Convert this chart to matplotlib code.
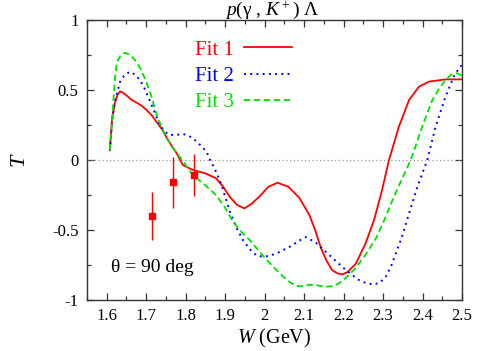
import numpy as np
import matplotlib.pyplot as plt
from matplotlib.ticker import MultipleLocator, FormatStrFormatter

plt.rcParams['font.family'] = ['Liberation Serif', 'DejaVu Serif']
plt.rcParams['mathtext.fontset'] = 'custom'
plt.rcParams['mathtext.rm'] = 'Liberation Serif'
plt.rcParams['mathtext.it'] = 'Liberation Serif:italic'
plt.rcParams['axes.unicode_minus'] = False

# Fit 1 (solid red)
w_fit1 = [1.608, 1.614, 1.621, 1.628, 1.634, 1.642, 1.651, 1.663, 1.676, 1.69, 1.70,
          1.714, 1.727, 1.74, 1.752, 1.765, 1.777, 1.793, 1.818, 1.85, 1.877, 1.895,
          1.911, 1.93, 1.949, 1.968, 1.987, 2.01, 2.033, 2.06, 2.088, 2.113, 2.128,
          2.143, 2.157, 2.171, 2.185, 2.197, 2.21, 2.231, 2.255, 2.277, 2.297, 2.315,
          2.34, 2.366, 2.391, 2.416, 2.458, 2.5]
t_fit1 = [0.07, 0.30, 0.41, 0.47, 0.49, 0.48, 0.46, 0.43, 0.41, 0.385, 0.36,
          0.32, 0.27, 0.22, 0.16, 0.10, 0.05, -0.036, -0.07, -0.095, -0.13, -0.19,
          -0.26, -0.32, -0.345, -0.31, -0.26, -0.19, -0.162, -0.19, -0.27, -0.39, -0.50,
          -0.63, -0.72, -0.786, -0.81, -0.816, -0.80, -0.74, -0.60, -0.43, -0.22, 0.0,
          0.238, 0.43, 0.524, 0.56, 0.576, 0.576]

# Fit 2 (dotted blue)
w_fit2 = [1.608, 1.614, 1.621, 1.634, 1.646, 1.659, 1.672, 1.685, 1.698, 1.71, 1.723,
          1.735, 1.748, 1.76, 1.777, 1.794, 1.807, 1.819, 1.836, 1.853, 1.862, 1.875,
          1.89, 1.911, 1.928, 1.945, 1.962, 1.979, 1.995, 2.012, 2.035, 2.063, 2.088,
          2.105, 2.13, 2.155, 2.18, 2.206, 2.239, 2.258, 2.277, 2.292, 2.307, 2.32,
          2.332, 2.35, 2.366, 2.387, 2.412, 2.433, 2.458, 2.479, 2.492, 2.5]
t_fit2 = [0.07, 0.28, 0.42, 0.56, 0.61, 0.63, 0.61, 0.57, 0.50, 0.42, 0.33,
          0.25, 0.20, 0.18, 0.18, 0.186, 0.175, 0.155, 0.11, 0.06, 0.0, -0.07,
          -0.17, -0.36, -0.48, -0.57, -0.635, -0.68, -0.69, -0.685, -0.66, -0.62, -0.575,
          -0.55, -0.59, -0.655, -0.72, -0.786, -0.857, -0.88, -0.888, -0.875, -0.833, -0.76,
          -0.67, -0.53, -0.38, -0.19, 0.0, 0.238, 0.452, 0.595, 0.655, 0.68]

# Fit 3 (dashed green)
w_fit3 = [1.608, 1.613, 1.617, 1.621, 1.626, 1.636, 1.647, 1.66, 1.676, 1.688, 1.70,
          1.714, 1.727, 1.74, 1.752, 1.772, 1.794, 1.818, 1.85, 1.877, 1.9, 1.92,
          1.94, 1.962, 1.983, 2.004, 2.025, 2.046, 2.063, 2.08, 2.097, 2.113, 2.135,
          2.155, 2.172, 2.189, 2.21, 2.231, 2.257, 2.282, 2.303, 2.324, 2.347, 2.37,
          2.385, 2.399, 2.425, 2.442, 2.458, 2.471, 2.488, 2.5]
t_fit3 = [0.07, 0.25, 0.42, 0.58, 0.70, 0.75, 0.766, 0.75, 0.70, 0.64, 0.56,
          0.45, 0.32, 0.23, 0.155, 0.07, -0.01, -0.107, -0.18, -0.25, -0.34, -0.44,
          -0.51, -0.57, -0.64, -0.71, -0.77, -0.83, -0.87, -0.90, -0.90, -0.89, -0.895,
          -0.905, -0.90, -0.88, -0.83, -0.77, -0.67, -0.56, -0.43, -0.286, -0.14, 0.0,
          0.12, 0.238, 0.43, 0.51, 0.571, 0.607, 0.62, 0.60]

# measured points
w_data = [1.715, 1.769, 1.82]
t_data = [-0.40, -0.16, -0.107]
t_err = [0.17, 0.18, 0.15]

fig = plt.figure(figsize=(4.91, 3.51), dpi=100)
ax = fig.add_axes([0.177, 0.145, 0.764, 0.798])

ax.axhline(0, color='#999999', lw=0.9, ls=(0, (1, 2)))
ax.plot(w_fit1, t_fit1, color='#ff0000', lw=1.3, label='Fit 1')
ax.plot(w_fit2, t_fit2, color='#0000ff', lw=1.4, ls=(0, (1, 2.2)), label='Fit 2')
ax.plot(w_fit3, t_fit3, color='#00e000', lw=1.3, ls=(0, (3.5, 2)), label='Fit 3')
ax.errorbar(w_data, t_data, yerr=t_err, fmt='s', color='#ff0000', ms=4.5,
            elinewidth=1.0, capsize=0)

ax.set_xlim(1.55, 2.5)
ax.set_ylim(-1, 1)
ax.xaxis.set_major_locator(MultipleLocator(0.1))
ax.xaxis.set_minor_locator(MultipleLocator(0.05))
ax.yaxis.set_major_locator(MultipleLocator(0.5))
ax.yaxis.set_minor_locator(MultipleLocator(0.25))
ax.xaxis.set_major_formatter(FormatStrFormatter('%g'))
ax.yaxis.set_major_formatter(FormatStrFormatter('%g'))
ax.tick_params(which='both', direction='in', top=True, right=True,
               labelsize=12, color='#333333')
ax.tick_params(which='major', length=5, width=0.9, pad=6)
ax.tick_params(which='minor', length=3, width=0.9)
for s in ax.spines.values():
    s.set_color('#333333')
    s.set_linewidth(1.0)

ax.set_xlabel(r'$W$ (GeV)', fontsize=14.5, labelpad=2)
ax.set_ylabel(r'$T$', fontsize=16, labelpad=16)

ax.text(0.065, 0.1, 'θ = 90 deg', transform=ax.transAxes, fontsize=14)
fig.text(0.555, 0.958, r'$p$(γ , $K^+$) Λ', ha='center', va='baseline', fontsize=14)

leg = ax.legend(loc='upper left', bbox_to_anchor=(0.288, 0.928), frameon=False,
                markerfirst=False, handlelength=2.3, labelspacing=0.32,
                fontsize=15, labelcolor='linecolor', handletextpad=0.5,
                borderpad=0, borderaxespad=0)

fig.savefig('out.png', dpi=100)
